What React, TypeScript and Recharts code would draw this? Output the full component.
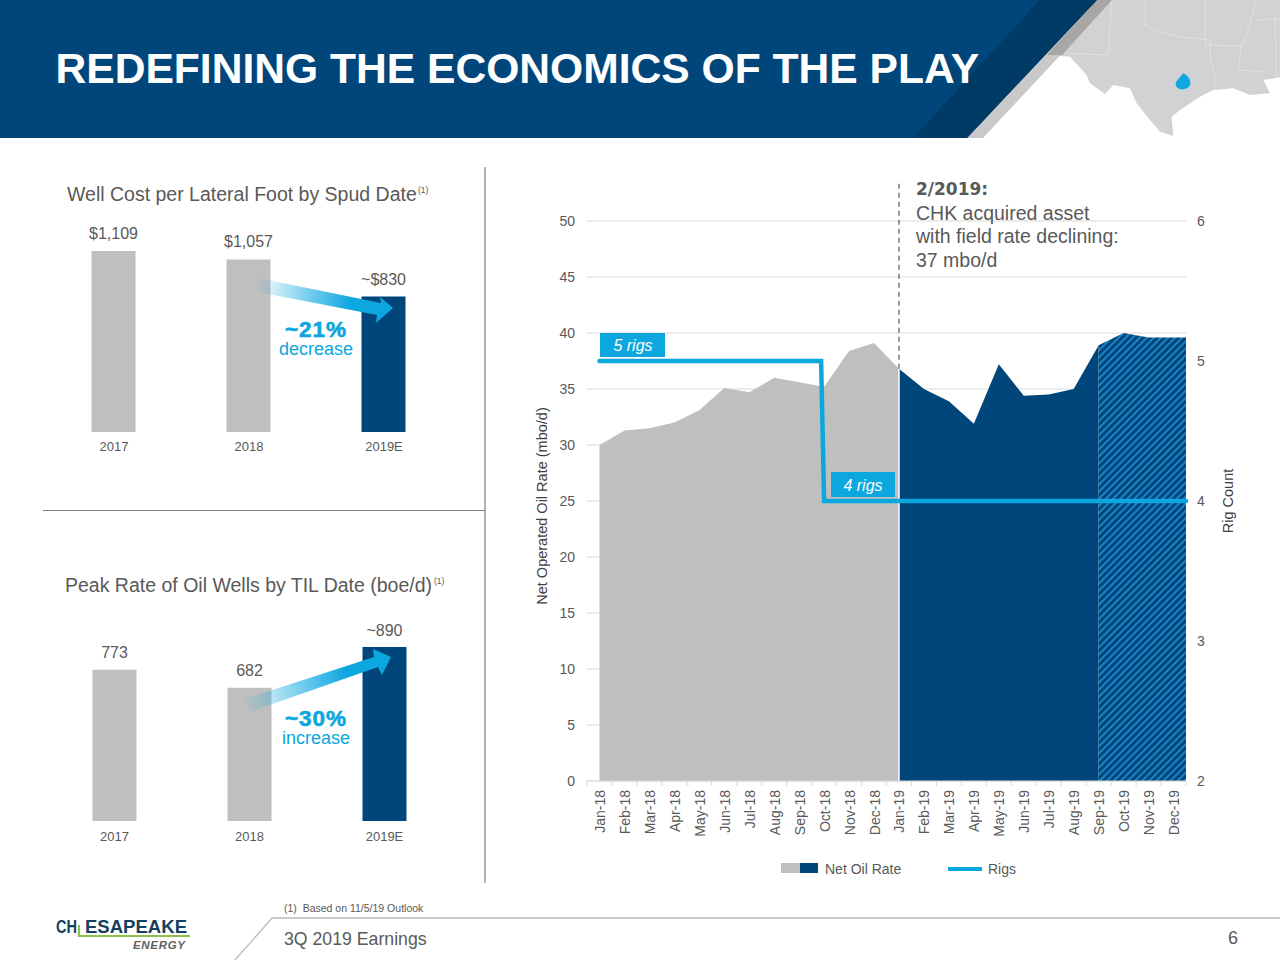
import React from "react"
import {
  Area,
  Bar,
  BarChart,
  CartesianGrid,
  Cell,
  ComposedChart,
  LabelList,
  Line,
  ReferenceLine,
  XAxis,
  YAxis,
} from "recharts"

const years = ["2017", "2018", "2019E"]
const costValues = [1109, 1057, 830]
const costLabels = ["$1,109", "$1,057", "~$830"]
const peakValues = [773, 682, 890]
const peakLabels = ["773", "682", "~890"]

const months = [
  "Jan-18", "Feb-18", "Mar-18", "Apr-18", "May-18", "Jun-18", "Jul-18", "Aug-18",
  "Sep-18", "Oct-18", "Nov-18", "Dec-18", "Jan-19", "Feb-19", "Mar-19", "Apr-19",
  "May-19", "Jun-19", "Jul-19", "Aug-19", "Sep-19", "Oct-19", "Nov-19", "Dec-19",
]
const oilRate = [
  30.0, 31.3, 31.5, 32.0, 33.1, 35.1, 34.7, 36.0, 35.6, 35.2, 38.4, 39.1,
  36.8, 35.0, 33.9, 31.9, 37.2, 34.4, 34.5, 35.0, 38.9, 40.0, 39.6, 39.6,
]
const rigPositions = [0, 8.88, 9, 23.5]
const rigCounts = [5, 5, 4, 4]
const leftTicks = [0, 5, 10, 15, 20, 25, 30, 35, 40, 45, 50]
const rightTicks = [2, 3, 4, 5, 6]

const GREY = "#bfbfbf"
const NAVY = "#00467a"
const BLUE = "#0ca7df"
const TEXT = "#595959"
const FONT = "'Liberation Sans', Arial, sans-serif"

// ticks at every month (label) and every half month (small mark between labels)
const monthTicks = [-0.5, ...months.flatMap((_, i) => [i, i + 0.5])]
const oilRows = oilRate.map((oil, x) => ({ x, oil }))
const actual2018 = oilRows.slice(0, 13)
const actual2019 = oilRows.slice(12, 21)
const estimate2019 = [...oilRows.slice(20), { x: 23.5, oil: oilRate[23] }]
const rigRows = rigPositions.map((x, i) => ({ x, rigs: rigCounts[i] }))
const barColors = [GREY, GREY, NAVY]

const costRows = years.map((year, i) => ({ year, value: costValues[i], label: costLabels[i] }))
const peakRows = years.map((year, i) => ({ year, value: peakValues[i], label: peakLabels[i] }))

const layer: React.CSSProperties = { position: "absolute", left: 0, top: 0, pointerEvents: "none" }

function MonthTick({ x, y, payload }: any) {
  if (!Number.isInteger(payload.value)) {
    return <line x1={x} y1={y} x2={x} y2={y + 5} stroke="#d9d9d9" />
  }
  return (
    <text
      x={x}
      y={y + 9}
      dy={5.5}
      transform={`rotate(-90 ${x} ${y + 9})`}
      textAnchor="end"
      fontSize={14}
      fontFamily={FONT}
      fill={TEXT}
    >
      {months[payload.value]}
    </text>
  )
}

function YearBars({ rows, top, height, left, domainMax, marginTop, axisHeight, tickGap, labelGap, tickShift }: any) {
  return (
    <div style={{ position: "absolute", left: 0, top }}>
      <BarChart
        width={500}
        height={height}
        data={rows}
        margin={{ top: marginTop, right: 500 - left - 405, bottom: 0, left }}
      >
        <XAxis
          dataKey="year"
          axisLine={false}
          tickLine={false}
          tickSize={0}
          tickMargin={tickGap}
          height={axisHeight}
          interval={0}
          tick={{ fontSize: 13, fontFamily: FONT, fill: TEXT, dx: tickShift }}
        />
        <YAxis hide domain={[0, domainMax]} />
        <Bar dataKey="value" barSize={44} isAnimationActive={false}>
          {rows.map((r: any, i: number) => (
            <Cell key={r.year} fill={barColors[i]} />
          ))}
          <LabelList dataKey="label" position="top" offset={labelGap} fontSize={16} fontFamily={FONT} fill={TEXT} />
        </Bar>
      </BarChart>
    </div>
  )
}

function RateChart() {
  return (
    <div style={{ position: "absolute", left: 500, top: 170 }}>
      <ComposedChart width={760} height={720} margin={{ top: 51, right: 0, bottom: 0, left: 0 }}>
        <defs>
          <pattern id="hatch" patternUnits="userSpaceOnUse" width="5" height="5" patternTransform="rotate(45)">
            <rect width="5" height="5" fill={NAVY} />
            <rect width="1.9" height="5" fill="#1c86cb" />
          </pattern>
        </defs>
        <XAxis
          type="number"
          dataKey="x"
          domain={[-0.5, 23.5]}
          ticks={monthTicks}
          interval={0}
          height={109}
          stroke="#d9d9d9"
          tickLine={false}
          tickSize={0}
          tickMargin={0}
          tick={<MonthTick />}
        />
        <YAxis
          yAxisId="left"
          width={87}
          domain={[0, 50]}
          ticks={leftTicks}
          interval={0}
          axisLine={false}
          tickLine={false}
          tickSize={0}
          tickMargin={12}
          tick={{ fontSize: 14, fontFamily: FONT, fill: TEXT }}
          label={{
            value: "Net Operated Oil Rate (mbo/d)",
            angle: -90,
            position: "center",
            dx: -2,
            dy: 5,
            fontSize: 14.5,
            fontFamily: FONT,
            fill: "#404040",
          }}
        />
        <YAxis
          yAxisId="right"
          orientation="right"
          width={74}
          domain={[2, 6]}
          ticks={rightTicks}
          interval={0}
          axisLine={false}
          tickLine={false}
          tickSize={0}
          tickMargin={11}
          tick={{ fontSize: 14, fontFamily: FONT, fill: TEXT }}
          label={{
            value: "Rig Count",
            angle: -90,
            position: "center",
            dx: 5,
            fontSize: 14.5,
            fontFamily: FONT,
            fill: "#404040",
          }}
        />
        <CartesianGrid yAxisId="left" vertical={false} stroke="#d9d9d9" />
        <Area yAxisId="left" data={actual2018} dataKey="oil" type="linear" fill={GREY} fillOpacity={1} stroke="none" isAnimationActive={false} />
        <Area yAxisId="left" data={actual2019} dataKey="oil" type="linear" fill={NAVY} fillOpacity={1} stroke="none" isAnimationActive={false} />
        <Area yAxisId="left" data={estimate2019} dataKey="oil" type="linear" fill="url(#hatch)" fillOpacity={1} stroke="none" isAnimationActive={false} />
        <ReferenceLine
          yAxisId="left"
          segment={[{ x: 12, y: 0 }, { x: 12, y: 36.8 }]}
          stroke="#ffffff"
          strokeWidth={1.5}
        />
        <ReferenceLine
          yAxisId="left"
          segment={[{ x: 12, y: 36.8 }, { x: 12, y: 53.4 }]}
          stroke="#595959"
          strokeDasharray="5 4"
          strokeWidth={1.2}
          ifOverflow="visible"
        />
        <Line
          yAxisId="right"
          data={rigRows}
          dataKey="rigs"
          type="linear"
          stroke={BLUE}
          strokeWidth={4.5}
          strokeLinecap="round"
          dot={false}
          isAnimationActive={false}
        />
      </ComposedChart>
    </div>
  )
}

function Header() {
  return (
    <svg width={1280} height={960} style={layer}>
      <g transform="translate(880 0) scale(0.3333)">
        <polygon
          fill="#d1d2d4"
          points="695,0 1200,0 1200,232 1150,240 1170,280 1110,285 1060,265 1000,270 960,290 900,330 875,350 880,408 840,395 810,360 770,310 750,265 700,255 675,282 630,250 620,225 570,170 500,165"
        />
        <g fill="none" stroke="#e9e9ea" strokeWidth={2}>
          <polyline points="695,0 685,165 560,160" />
          <polyline points="795,0 795,75 830,95 900,110 990,120 992,180 1005,230 1005,270" />
          <polyline points="975,0 975,135 1085,138 1075,210 1150,215" />
          <polyline points="1130,0 1095,120 1085,138" />
          <polyline points="1130,60 1200,55" />
          <polyline points="1185,55 1190,232" />
        </g>
        <path d="M910,220 C925,226 935,245 930,256 C922,272 895,272 888,258 C884,245 898,235 910,220Z" fill="#0fa8e0" />
      </g>
      <polygon points="1097,0 1112,0 983,138 967,138" fill="#c9c9c9" />
      <polygon points="1097,0 1112,0 1062,55 1047,55" fill="#a9a7a6" />
      <polygon points="0,0 1097,0 967,138 0,138" fill={NAVY} />
      <polygon points="1040,0 1097,0 967,138 913,138" fill="#003b66" />
      <text x={55.5} y={83} fontFamily={FONT} fontWeight={700} fontSize={42.6} fill="#ffffff">
        REDEFINING THE ECONOMICS OF THE PLAY
      </text>
      <line x1={485} y1={167} x2={485} y2={883} stroke="#7f7f7f" strokeWidth={1.2} />
      <line x1={43} y1={510.5} x2={485} y2={510.5} stroke="#7f7f7f" strokeWidth={1.2} />
      <polyline points="235,960 272,918 1280,918" fill="none" stroke="#bdbdbd" strokeWidth={1.3} />
    </svg>
  )
}

function Overlay() {
  return (
    <svg width={1280} height={960} style={layer} fontFamily={FONT}>
      <defs>
        <linearGradient id="arrowDown" x1="255" y1="285" x2="392" y2="311" gradientUnits="userSpaceOnUse">
          <stop offset="0" stopColor={BLUE} stopOpacity={0} />
          <stop offset="0.7" stopColor={BLUE} stopOpacity={1} />
        </linearGradient>
        <linearGradient id="arrowUp" x1="240" y1="705" x2="391" y2="655" gradientUnits="userSpaceOnUse">
          <stop offset="0" stopColor={BLUE} stopOpacity={0} />
          <stop offset="0.7" stopColor={BLUE} stopOpacity={1} />
        </linearGradient>
      </defs>
      <polygon points="258,278 381,303 380,297 393,308 376,323 377,315 258,292" fill="url(#arrowDown)" />
      <polygon points="245,699 374,657 373,649 391,657 382,675 378,667 250,712" fill="url(#arrowUp)" />

      <text x={67} y={201} fontSize={19.5} fill={TEXT}>
        Well Cost per Lateral Foot by Spud Date
      </text>
      <text x={418} y={193} fontSize={8.5} fill={TEXT}>(1)</text>
      <text x={65} y={592} fontSize={19.5} fill={TEXT}>
        Peak Rate of Oil Wells by TIL Date (boe/d)
      </text>
      <text x={434} y={584} fontSize={8.5} fill={TEXT}>(1)</text>

      <text x={316} y={337} textAnchor="middle" fontWeight={700} fontSize={22.5} letterSpacing={1} stroke={BLUE} strokeWidth={0.6} fill={BLUE}>~21%</text>
      <text x={316} y={355} textAnchor="middle" fontSize={18} fill={BLUE}>decrease</text>
      <text x={316} y={726} textAnchor="middle" fontWeight={700} fontSize={22.5} letterSpacing={1} stroke={BLUE} strokeWidth={0.6} fill={BLUE}>~30%</text>
      <text x={316} y={744} textAnchor="middle" fontSize={18} fill={BLUE}>increase</text>

      <text x={916} y={195} fontFamily="'DejaVu Sans', sans-serif" fontWeight={700} fontSize={17} fill={TEXT}>2/2019:</text>
      <text x={916} y={220} fontSize={19.5} fill={TEXT}>CHK acquired asset</text>
      <text x={916} y={243} fontSize={19.5} fill={TEXT}>with field rate declining:</text>
      <text x={916} y={267} fontSize={19.5} fill={TEXT}>37 mbo/d</text>

      <rect x={600} y={333} width={65} height={24} fill={BLUE} />
      <text x={633} y={351} textAnchor="middle" fontStyle="italic" fontSize={16} fill="#ffffff">5 rigs</text>
      <rect x={831} y={472} width={64} height={25} fill={BLUE} />
      <text x={863} y={491} textAnchor="middle" fontStyle="italic" fontSize={16} fill="#ffffff">4 rigs</text>

      <rect x={781} y={863} width={19} height={10} fill={GREY} />
      <rect x={800} y={863} width={18} height={10} fill={NAVY} />
      <text x={825} y={874} fontSize={14} fill={TEXT}>Net Oil Rate</text>
      <line x1={948} y1={869} x2={982} y2={869} stroke={BLUE} strokeWidth={4} />
      <text x={988} y={874} fontSize={14} fill={TEXT}>Rigs</text>

      <text x={284} y={912} fontSize={10.5} fill={TEXT} style={{ whiteSpace: "pre" }}>(1)  Based on 11/5/19 Outlook</text>
      <text x={284} y={945} fontSize={17.7} fill={TEXT}>3Q 2019 Earnings</text>
      <text x={1228} y={944} fontSize={18} fill={TEXT}>6</text>

      <text x={56} y={933} fontWeight={700} fontSize={18.5} fill="#14405f" textLength={21} lengthAdjust="spacingAndGlyphs">CH</text>
      <text x={85} y={933} fontWeight={700} fontSize={18.5} fill="#14405f" textLength={102} lengthAdjust="spacingAndGlyphs">ESAPEAKE</text>
      <polyline points="79,925 79,936 190,936" fill="none" stroke="#8cc04b" strokeWidth={2.2} />
      <text x={133} y={949} fontWeight={700} fontStyle="italic" fontSize={11.5} fill="#5f6062" textLength={52}>ENERGY</text>
    </svg>
  )
}

export default function App() {
  return (
    <div style={{ position: "fixed", left: 0, top: 0, width: 1280, height: 960, background: "#ffffff", overflow: "hidden" }}>
      <Header />
      <YearBars rows={costRows} top={200} height={260} left={45.5} domainMax={1109} marginTop={51} axisHeight={28} tickGap={10} labelGap={12} tickShift={1} />
      <YearBars rows={peakRows} top={600} height={260} left={46.5} domainMax={890} marginTop={47} axisHeight={39} tickGap={11} labelGap={11.5} tickShift={0.5} />
      <RateChart />
      <Overlay />
    </div>
  )
}
